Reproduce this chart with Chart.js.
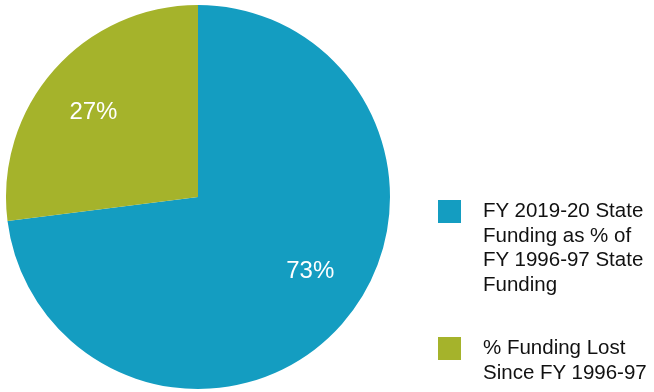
<!DOCTYPE html>
<html>
<head>
<meta charset="utf-8">
<script src="https://cdn.jsdelivr.net/npm/chart.js@4/dist/chart.umd.min.js"></script>
<style>
  html, body { margin: 0; padding: 0; background: #ffffff; }
  #wrap { position: relative; width: 654px; height: 392px; overflow: hidden; }
  #chart { position: absolute; left: 0; top: 0; }
  #legend { position: absolute; left: 438px; top: 200px; font-family: "Liberation Sans", Arial, sans-serif; font-size: 20.5px; line-height: 24.5px; color: #111111; }
  .item { position: absolute; left: 0; white-space: nowrap; }
  .swatch { position: absolute; left: 0; top: 0; width: 23px; height: 23px; }
  .text { position: absolute; left: 45px; top: -2px; }
</style>
</head>
<body>
<div id="wrap">
  <canvas id="chart" width="654" height="392"></canvas>
  <div id="legend"></div>
</div>
<script>
// Share of FY 1996-97 state funding
const categories = [
  ["FY 2019-20 State", "Funding as % of", "FY 1996-97 State", "Funding"],
  ["% Funding Lost", "Since FY 1996-97"]
];
const shares = [73, 27];
const sliceColors = ["#149dc1", "#a5b32b"];

// Percent labels drawn inside each slice
const sliceLabels = {
  id: 'sliceLabels',
  afterDatasetsDraw(chart, args, opts) {
    const ctx = chart.ctx;
    const meta = chart.getDatasetMeta(0);
    ctx.save();
    ctx.fillStyle = '#ffffff';
    ctx.font = '24px "Liberation Sans", Arial, sans-serif';
    ctx.textAlign = 'center';
    ctx.textBaseline = 'middle';
    meta.data.forEach((arc, i) => {
      const p = arc.getProps(['x', 'y', 'startAngle', 'endAngle', 'outerRadius'], true);
      const mid = (p.startAngle + p.endAngle) / 2 + (opts.angleShift[i] || 0) * Math.PI / 180;
      const r = p.outerRadius * opts.radiusFactor;
      ctx.fillText(shares[i] + '%', p.x + Math.cos(mid) * r, p.y + Math.sin(mid) * r);
    });
    ctx.restore();
  }
};

new Chart(document.getElementById('chart'), {
  type: 'pie',
  data: {
    labels: categories.map(c => c.join(' ')),
    datasets: [{
      data: shares,
      backgroundColor: sliceColors,
      borderWidth: 0
    }]
  },
  options: {
    responsive: false,
    animation: false,
    layout: { padding: { left: 6, right: 264, top: 5, bottom: 3 } },
    plugins: {
      legend: { display: false },
      tooltip: { enabled: false },
      sliceLabels: { radiusFactor: 0.7, angleShift: [-8, -2.5] }
    }
  },
  plugins: [sliceLabels]
});

// Legend built from the same categories and colours
const legend = document.getElementById('legend');
const offsets = [0, 137];
categories.forEach((lines, i) => {
  const item = document.createElement('div');
  item.className = 'item';
  item.style.top = offsets[i] + 'px';
  const sw = document.createElement('div');
  sw.className = 'swatch';
  sw.style.background = sliceColors[i];
  const tx = document.createElement('div');
  tx.className = 'text';
  tx.innerHTML = lines.join('<br>');
  item.appendChild(sw);
  item.appendChild(tx);
  legend.appendChild(item);
});
</script>
</body>
</html>
